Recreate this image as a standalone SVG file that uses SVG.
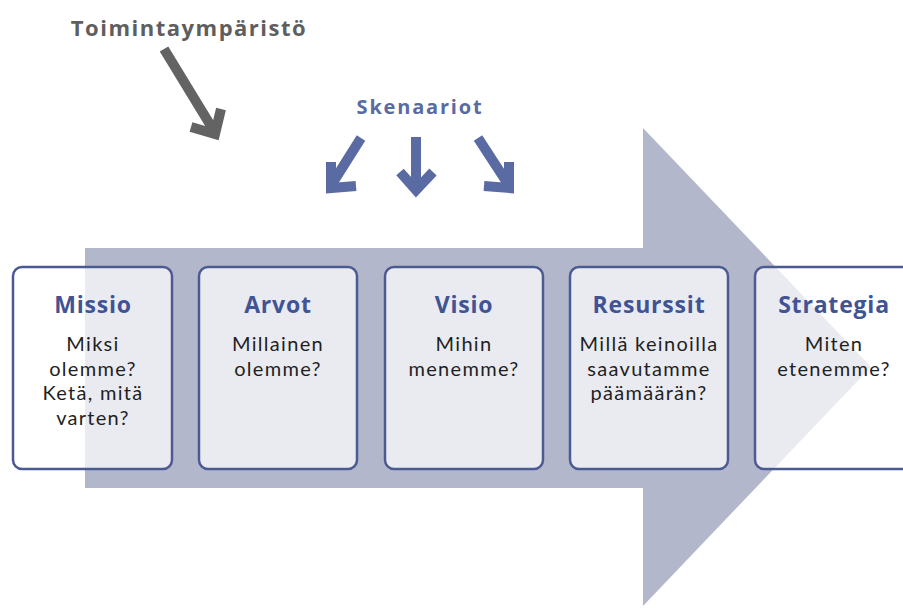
<svg xmlns="http://www.w3.org/2000/svg" width="903" height="608" viewBox="0 0 903 608">
<style>
.box{fill:#ffffff;fill-opacity:0.72;stroke:#4b5b92;stroke-width:2.5}
.title{font-family:"Open Sans","Noto Sans",sans-serif;font-weight:bold;font-size:23px;fill:#3f5395;text-anchor:middle;letter-spacing:0.8px}
.body{font-family:Lato,"Open Sans",sans-serif;font-size:20px;fill:#1f1f1f;text-anchor:middle;letter-spacing:1.3px}
.garrow{fill:none;stroke:#636363;stroke-width:10;stroke-linejoin:miter}
.barrow{fill:none;stroke:#5a6aa3;stroke-width:10;stroke-linejoin:miter}
</style>
<rect width="903" height="608" fill="#ffffff"/>
<path id="bigArrow" d="M85,248 H643 V128 L871,367 L643,606 V488 H85 Z" fill="#b3b7cb"/>
<text x="189" y="36" style="font-family:'Open Sans','Noto Sans',sans-serif;font-weight:bold;font-size:22px;fill:#5e5e5e;text-anchor:middle;letter-spacing:1.5px">Toimintaympäristö</text>
<text x="420" y="114" style="font-family:'Open Sans','Noto Sans',sans-serif;font-weight:bold;font-size:20px;fill:#5a6aa3;text-anchor:middle;letter-spacing:1.8px">Skenaariot</text>
<g id="connectors">
<path class="garrow" d="M164,49 L214,131"/>
<path class="garrow" d="M191,127 L215,134 L221,109"/>
<path class="barrow" d="M361,138 L332,184"/>
<path class="barrow" d="M331,162 L331,188 L356,186"/>
<path class="barrow" d="M416,137 L416,188"/>
<path class="barrow" d="M400,172 L416,190 L433,172"/>
<path class="barrow" d="M478,138 L508,184"/>
<path class="barrow" d="M509,162 L509,188 L484,186"/>
</g>
<g id="missio">
<rect class="box" x="13" y="267" width="159" height="202" rx="9"/>
<text class="title" x="93" y="313">Missio</text>
<text class="body" x="93" y="351">Miksi</text>
<text class="body" x="93" y="375.5">olemme?</text>
<text class="body" x="93" y="400">Ketä, mitä</text>
<text class="body" x="93" y="424.5">varten?</text>
</g>
<g id="arvot">
<rect class="box" x="199" y="267" width="158" height="202" rx="9"/>
<text class="title" x="278" y="313">Arvot</text>
<text class="body" x="278" y="351">Millainen</text>
<text class="body" x="278" y="375.5">olemme?</text>
</g>
<g id="visio">
<rect class="box" x="385" y="267" width="158" height="202" rx="9"/>
<text class="title" x="464" y="313">Visio</text>
<text class="body" x="464" y="351">Mihin</text>
<text class="body" x="464" y="375.5">menemme?</text>
</g>
<g id="resurssit">
<rect class="box" x="570" y="267" width="158" height="202" rx="9"/>
<text class="title" x="649" y="313">Resurssit</text>
<text class="body" x="649" y="351">Millä keinoilla</text>
<text class="body" x="649" y="375.5">saavutamme</text>
<text class="body" x="649" y="400">päämäärän?</text>
</g>
<g id="strategia">
<rect class="box" x="755" y="267" width="160" height="202" rx="9"/>
<text class="title" x="834" y="313">Strategia</text>
<text class="body" x="834" y="351">Miten</text>
<text class="body" x="834" y="375.5">etenemme?</text>
</g>
</svg>
